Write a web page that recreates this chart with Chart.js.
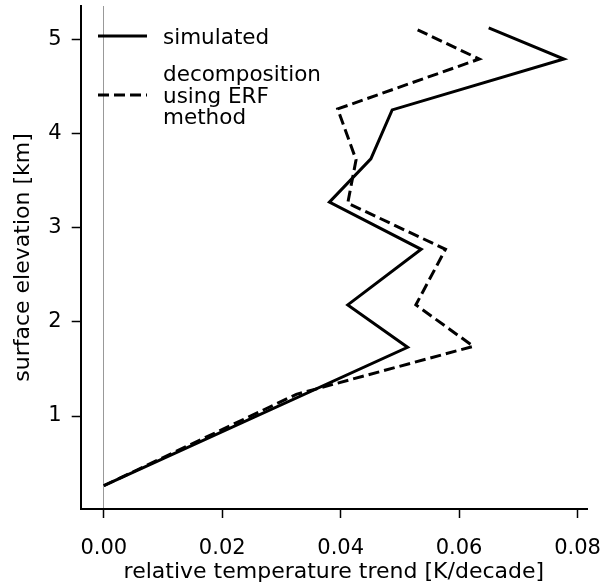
<!DOCTYPE html>
<html>
<head>
<meta charset="utf-8">
<script src="https://cdn.jsdelivr.net/npm/chart.js@4.4.1/dist/chart.umd.min.js"></script>
<style>
  html, body { margin: 0; padding: 0; background: #fff; }
  canvas { display: block; }
</style>
</head>
<body>
<canvas id="trend-chart" width="602" height="585"></canvas>
<script>
// elevation profile of the trend
const simElevation = [0.26, 1.73, 2.18, 2.77, 3.27, 3.73, 4.25, 4.79, 5.12];
const simTrend = [0.0, 0.0513, 0.0412, 0.0536, 0.0381, 0.0451, 0.0487, 0.0777, 0.0650];
const erfElevation = [0.26, 1.23, 1.74, 2.18, 2.77, 3.26, 3.72, 4.26, 4.79, 5.10];
const erfTrend = [0.0, 0.0325, 0.0624, 0.0527, 0.0577, 0.0412, 0.0426, 0.0395, 0.0634, 0.0530];

const xTicks = [0, 0.02, 0.04, 0.06, 0.08];
const yTicks = [1, 2, 3, 4, 5];
const legendLabels = [['simulated'], ['decomposition', 'using ERF', 'method']];

const FONT = "'DejaVu Sans', sans-serif";

function toPoints(xs, ys) {
    return xs.map((x, i) => ({ x: x, y: ys[i] }));
}

// no auto padding for overflowing tick labels, the plot box is fixed
function noLabelPadding(scale) {
    scale.paddingTop = 0;
    scale.paddingBottom = 0;
    scale.paddingLeft = 0;
    scale.paddingRight = 0;
}

// legend drawn by hand so the multi-line label matches
const legendPlugin = {
    id: 'profileLegend',
    afterDraw(chart) {
        const ctx = chart.ctx;
        ctx.save();
        ctx.strokeStyle = '#000';
        ctx.lineWidth = 3;
        ctx.lineCap = 'butt';
        ctx.beginPath();
        ctx.moveTo(98, 36);
        ctx.lineTo(147, 36);
        ctx.stroke();
        ctx.setLineDash([11, 5]);
        ctx.beginPath();
        ctx.moveTo(98, 95);
        ctx.lineTo(147, 95);
        ctx.stroke();
        ctx.setLineDash([]);
        ctx.fillStyle = '#000';
        ctx.font = '21.5px ' + FONT;
        ctx.textAlign = 'left';
        ctx.textBaseline = 'alphabetic';
        ctx.fillText(legendLabels[0][0], 163, 44);
        const baselines = [81, 102.5, 124];
        legendLabels[1].forEach((t, i) => ctx.fillText(t, 163, baselines[i]));
        ctx.restore();
    }
};

new Chart(document.getElementById('trend-chart'), {
    type: 'scatter',
    data: {
        datasets: [
            {
                label: 'simulated',
                data: toPoints(simTrend, simElevation),
                showLine: true,
                borderColor: '#000',
                borderWidth: 3,
                pointRadius: 0,
                tension: 0
            },
            {
                label: 'decomposition using ERF method',
                data: toPoints(erfTrend, erfElevation),
                showLine: true,
                borderColor: '#000',
                borderWidth: 3,
                borderDash: [11, 5],
                pointRadius: 0,
                tension: 0
            }
        ]
    },
    options: {
        responsive: false,
        devicePixelRatio: 1,
        animation: false,
        layout: { padding: { top: 6, right: 15, left: 0, bottom: 0 } },
        plugins: {
            legend: { display: false },
            tooltip: { enabled: false }
        },
        scales: {
            x: {
                type: 'linear',
                min: -0.0039,
                max: 0.0816,
                afterFit: scale => { scale.height = 76; noLabelPadding(scale); },
                afterBuildTicks: scale => { scale.ticks = xTicks.map(v => ({ value: v })); },
                border: { display: true, color: '#000', width: 2 },
                grid: {
                    drawOnChartArea: true,
                    drawTicks: true,
                    tickLength: 9,
                    tickWidth: 1.5,
                    tickColor: '#000',
                    lineWidth: 1,
                    color: c => (c.tick && c.tick.value === 0 ? '#999999' : 'rgba(0,0,0,0)')
                },
                ticks: {
                    color: '#000',
                    padding: 18,
                    font: { family: FONT, size: 21 },
                    callback: v => v.toFixed(2)
                },
                title: {
                    display: true,
                    text: 'relative temperature trend [K/decade]',
                    color: '#000',
                    padding: 0,
                    font: { family: FONT, size: 22 }
                }
            },
            y: {
                type: 'linear',
                min: 0.013,
                max: 5.353,
                afterFit: scale => { scale.width = 80.7; noLabelPadding(scale); },
                afterBuildTicks: scale => { scale.ticks = yTicks.map(v => ({ value: v })); },
                border: { display: true, color: '#000', width: 2 },
                grid: {
                    drawOnChartArea: false,
                    drawTicks: true,
                    tickLength: 9,
                    tickWidth: 1.5,
                    tickColor: '#000'
                },
                ticks: {
                    color: '#000',
                    padding: 10,
                    font: { family: FONT, size: 21 },
                    callback: v => v.toFixed(0)
                },
                title: {
                    display: true,
                    text: 'surface elevation [km]',
                    color: '#000',
                    padding: { top: 10, bottom: 0 },
                    font: { family: FONT, size: 22 }
                }
            }
        }
    },
    plugins: [legendPlugin]
});
</script>
</body>
</html>
